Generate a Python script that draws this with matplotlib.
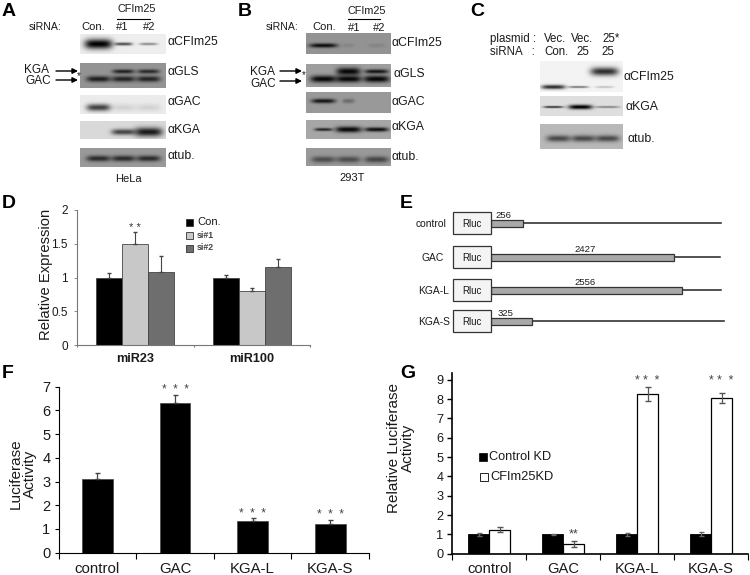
import numpy as np
import matplotlib
matplotlib.use('Agg')
import matplotlib.pyplot as plt
from matplotlib.patches import Rectangle

plt.rcParams['font.family'] = ['Liberation Sans', 'DejaVu Sans']

W, H = 750, 575

# panel D
mir_names = ['miR23', 'miR100']
mir_con = [1.0, 1.0]
mir_si1 = [1.5, 0.8]
mir_si2 = [1.08, 1.15]
mir_con_err = [0.07, 0.03]
mir_si1_err = [0.17, 0.04]
mir_si2_err = [0.24, 0.12]

# panel E
construct_names = ['control', 'GAC', 'KGA-L', 'KGA-S']
construct_len = [256, 2427, 2556, 325]

# panel F
luc_names = ['control', 'GAC', 'KGA-L', 'KGA-S']
luc_vals = [3.1, 6.33, 1.35, 1.22]
luc_err = [0.28, 0.33, 0.1, 0.15]

# panel G
rel_control = [1.0, 1.0, 1.0, 1.0]
rel_kd = [1.25, 0.5, 8.25, 8.05]
rel_control_err = [0.06, 0.03, 0.06, 0.1]
rel_kd_err = [0.13, 0.14, 0.37, 0.27]

# blot band strengths per lane
a_cfim = [1.0, 0.65, 0.4]
a_gls_up = [0.0, 0.75, 0.7]
a_gls_low = [0.8, 0.75, 0.75]
a_gac = [0.72, 0.1, 0.1]
a_kga = [0.0, 0.68, 0.88]
a_tub = [0.72, 0.72, 0.72]
b_cfim = [0.9, 0.1, 0.1]
b_gls_up = [0.0, 0.95, 0.85]
b_gls_low = [0.95, 0.95, 0.95]
b_gac = [0.85, 0.3, 0.0]
b_kga = [0.75, 0.95, 0.9]
b_tub = [0.5, 0.5, 0.55]
c_cfim_up = [0.0, 0.0, 0.8]
c_cfim_low = [0.8, 0.5, 0.2]
c_kga = [0.75, 1.0, 0.4]
c_tub = [0.6, 0.6, 0.6]

fig = plt.figure(figsize=(W / 100, H / 100), dpi=100)

# overlay in pixel coordinates, for the blots, the schematic and loose labels
ov = fig.add_axes([0, 0, 1, 1])
ov.set_xlim(0, W)
ov.set_ylim(H, 0)
ov.axis('off')

canvas = np.ones((H, W))
yy, xx = np.mgrid[0:H, 0:W]


def blot_bg(x0, y0, x1, y1, level):
    canvas[y0:y1, x0:x1] = level


def bands(box, lanes, y, strengths, w, h):
    # w and h can be one number or one per lane
    x0, y0, x1, y1 = box
    w = np.broadcast_to(w, len(lanes))
    h = np.broadcast_to(h, len(lanes))
    for cx, s, bw, bh in zip(lanes, strengths, w, h):
        shape = np.exp(-((xx - cx) / bw) ** 4 - ((yy - y) / bh) ** 2)
        part = 1 - s * shape
        canvas[y0:y1, x0:x1] *= part[y0:y1, x0:x1]


# panel A blots
lanes = [98, 123, 148]
box = (80, 34, 166, 54)
blot_bg(*box, 0.93)
bands(box, lanes, 43.5, a_cfim, [14, 9, 9], [5, 1.6, 1.3])
box = (80, 63, 166, 88)
blot_bg(*box, 0.58)
bands(box, lanes, 71, a_gls_up, 11, 2.2)
bands(box, lanes, 78.5, a_gls_low, 12, 3)
box = (80, 95, 166, 114)
blot_bg(*box, 0.92)
bands(box, lanes, 107, a_gac, 12, 3.6)
box = (80, 121, 166, 139)
blot_bg(*box, 0.85)
bands(box, lanes, 131.5, a_kga, [10, 12, 14], [2.5, 3, 4.5])
box = (80, 148, 166, 167)
blot_bg(*box, 0.6)
bands(box, lanes, 158, a_tub, 12, 3)

# panel B blots
lanes = [323, 348, 376]
box = (306, 33, 391, 54)
blot_bg(*box, 0.58)
bands(box, lanes, 45, b_cfim, [14, 6, 9], 2.2)
box = (306, 64, 391, 87)
blot_bg(*box, 0.62)
bands(box, lanes, 71, b_gls_up, 12, [2, 3.8, 2.2])
bands(box, lanes, 78.5, b_gls_low, 13, 3.5)
box = (306, 92, 391, 113)
blot_bg(*box, 0.6)
bands(box, lanes, 100.5, b_gac, [12, 6, 6], 2.3)
box = (306, 120, 391, 139)
blot_bg(*box, 0.65)
bands(box, lanes, 129, b_kga, [9, 13, 12], [1.6, 3, 2.2])
box = (306, 148, 391, 166)
blot_bg(*box, 0.6)
bands(box, lanes, 159, b_tub, 12, 3.2)

# panel C blots
lanes = [553, 578, 604]
box = (540, 61, 623, 92)
blot_bg(*box, 0.95)
bands(box, lanes, 71, c_cfim_up, 14, 4.2)
bands(box, lanes, 86.5, c_cfim_low, [12, 10, 9], [2.2, 1.1, 1.1])
box = (540, 96, 623, 116)
blot_bg(*box, 0.87)
bands(box, [553, 580, 607], 106.5, c_kga, [10, 12, 12], [1.1, 2.3, 1.1])
box = (540, 124, 623, 149)
blot_bg(*box, 0.72)
bands(box, [558, 583, 607], 138, c_tub, 12, 3.3)

ov.imshow(canvas, cmap='gray', vmin=0, vmax=1, extent=(0, W, H, 0),
          interpolation='bilinear', aspect='auto', zorder=0)


def label(x, y, s, size=8.5, ha='left', **kw):
    ov.text(x, y, s, fontsize=size, ha=ha, va='center', color=kw.pop('color', '#1a1a1a'), **kw)


def arrow(x0, x1, y):
    ov.annotate('', xy=(x1, y), xytext=(x0, y),
                arrowprops=dict(arrowstyle='-|>', color='black', lw=1, mutation_scale=8,
                                shrinkA=0, shrinkB=0))


# panel letters
for x, y, s in [(2, 11, 'A'), (238, 11, 'B'), (470, 11, 'C'), (2, 203, 'D'),
                (400, 203, 'E'), (2, 373, 'F'), (400, 373, 'G')]:
    ov.text(x, y, s, fontsize=14, fontweight='bold', ha='left', va='center', color='black')

# panel A text
label(29, 27, 'siRNA:', 7.6)
label(93.5, 27, 'Con.', 8, ha='center')
label(122, 27, '#1', 8, ha='center')
label(149, 27, '#2', 8, ha='center')
label(137, 9, 'CFIm25', 7.8, ha='center')
ov.plot([117, 150], [18.5, 18.5], color='black', lw=0.8)
for y, s in [(42, 'αCFIm25'), (72, 'αGLS'), (102, 'αGAC'), (130, 'αKGA'), (156, 'αtub.')]:
    label(168, y, s, 8.8)
label(24, 70, 'KGA', 8.5)
label(25, 81, 'GAC', 8.5)
arrow(56, 78, 71)
arrow(56, 78, 80)
label(77, 76, '*', 7)
label(128.5, 179, 'HeLa', 8, ha='center')

# panel B text
label(266, 27, 'siRNA:', 7.6)
label(324, 27, 'Con.', 8, ha='center')
label(354, 28, '#1', 8, ha='center')
label(379, 28, '#2', 8, ha='center')
label(367, 11, 'CFIm25', 7.8, ha='center')
ov.plot([348, 380], [18.5, 18.5], color='black', lw=0.8)
for x, y, s in [(392, 43, 'αCFIm25'), (394, 74, 'αGLS'), (391, 102, 'αGAC'),
                (391, 127, 'αKGA'), (392, 157, 'αtub.')]:
    label(x, y, s, 8.8)
label(250, 72, 'KGA', 8.5)
label(250, 84, 'GAC', 8.5)
arrow(280, 302, 71)
arrow(280, 302, 81)
label(302, 75, '*', 7)
label(352, 178, '293T', 8, ha='center')

# panel C text
label(490, 39, 'plasmid :', 8.3)
label(490, 52, 'siRNA   :', 8.3)
label(544, 39, 'Vec.', 8.3)
label(571, 39, 'Vec.', 8.3)
label(602, 39, '25*', 8.3)
label(544, 52, 'Con.', 8.3)
label(576, 52, '25', 8.3)
label(601, 52, '25', 8.3)
label(624, 77, 'αCFIm25', 8.8)
label(626, 107, 'αKGA', 8.8)
label(628, 139, 'αtub.', 8.8)

# panel D legend
d_colors = ['black', '#c8c8c8', '#6e6e6e']
for y, c in zip([222, 235, 248], d_colors):
    ov.add_patch(Rectangle((186, y - 3), 6.5, 6.5, fc=c, ec='#333333', lw=0.6))
label(197, 222, 'Con.', 8)
label(197, 235.5, 'si#1', 6.3, fontweight='bold', color='#444444')
label(197, 248, 'si#2', 6.3, fontweight='bold', color='#444444')

# panel E schematic, the drawn bars are not quite to scale with the lengths
row_y = [223, 257, 290, 321]
row_end = [721, 720, 721, 724]
name_x = [431.5, 433, 434, 434]
num_x = [503, 585, 585, 506]
for i in range(4):
    y = row_y[i]
    bar_w = np.interp(construct_len[i], [256, 325, 2427, 2556], [32, 41, 183, 191])
    ov.plot([490, row_end[i]], [y, y], color='#222222', lw=1.1, zorder=2)
    ov.add_patch(Rectangle((490.5, y - 3.5), bar_w, 7, fc='#a9a9a9', ec='#333333', lw=0.9, zorder=3))
    ov.add_patch(Rectangle((452.5, y - 11), 38, 22, fc='#f4f4f4', ec='#333333', lw=0.9, zorder=4))
    label(472, y + 1, 'Rluc', 7, ha='center', zorder=5)
    label(name_x[i], y + 1, construct_names[i], 7.4, ha='center')
    label(num_x[i], y - 7.5, str(construct_len[i]), 6.8, ha='center', zorder=5)


def chart_axes(x0, y0, x1, y1):
    ax = fig.add_axes([x0 / W, 1 - y1 / H, (x1 - x0) / W, (y1 - y0) / H])
    ax.patch.set_visible(False)
    ax.spines['top'].set_visible(False)
    ax.spines['right'].set_visible(False)
    return ax


def cat_ticks(ax, names, size, length=3.5, pad=2, **kw):
    n = len(names)
    ax.set_xlim(-0.5, n - 0.5)
    ax.set_xticks(np.arange(n))
    ax.set_xticklabels(names, fontsize=size, color='#1a1a1a', **kw)
    ax.tick_params(axis='x', which='major', length=0, pad=length + pad)
    ax.set_xticks(np.arange(n + 1) - 0.5, minor=True)
    ax.tick_params(axis='x', which='minor', length=length, width=0.8)


# panel D
ax = chart_axes(77, 210, 310, 345)
w = 0.223
pos = np.arange(len(mir_names))
for off, vals, errs, c in zip([-w, 0, w], [mir_con, mir_si1, mir_si2],
                              [mir_con_err, mir_si1_err, mir_si2_err], d_colors):
    ax.bar(pos + off, vals, w, color=c, edgecolor='#444444', linewidth=0.6)
    ax.errorbar(pos + off, vals, yerr=[np.zeros(2), errs], fmt='none', ecolor='#444444',
                elinewidth=0.8, capsize=1.5)
ax.set_ylim(0, 2)
ax.set_yticks([0, 0.5, 1, 1.5, 2])
ax.set_yticklabels(['0', '0.5', '1', '1.5', '2'], fontsize=8.5, color='#1a1a1a')
ax.tick_params(axis='y', length=2.5, width=0.6, color='#777777', pad=4)
ax.tick_params(axis='x', which='minor', color='#777777')
cat_ticks(ax, mir_names, 9.1, length=1.5, pad=4, fontweight='bold')
ax.spines['left'].set_color('#777777')
ax.spines['bottom'].set_color('#777777')
ax.text(0, 1.74, '* *', fontsize=8, ha='center', va='center', color='#333333')
ax.set_ylabel('Relative Expression', fontsize=10.6, color='#1a1a1a')
ax.yaxis.set_label_coords((53 - 77) / 233, 0.526)

# panel F
ax = chart_axes(58.7, 386.7, 369, 552.7)
pos = np.arange(len(luc_names))
ax.bar(pos, luc_vals, 0.395, color='black', edgecolor='#444444', linewidth=0.5)
ax.errorbar(pos, luc_vals, yerr=[np.zeros(4), luc_err], fmt='none', ecolor='#444444',
            elinewidth=0.9, capsize=1.8)
ax.set_ylim(0, 7)
ax.set_yticks(range(8))
ax.tick_params(axis='y', labelsize=10.5, labelcolor='#1a1a1a', length=3, width=0.8, pad=3)
cat_ticks(ax, luc_names, 10.8, length=4, pad=3)
for i, v, e in zip([1, 2, 3], luc_vals[1:], luc_err[1:]):
    ax.text(i, v + e + 0.2, '*  *  *', fontsize=8.5, ha='center', va='center', color='#444444')
ax.set_ylabel('Luciferase\nActivity', fontsize=11, color='#1a1a1a', linespacing=1.0)
ax.yaxis.set_label_coords((37 - 58.7) / 310.3, 0.474)

# panel G
ax = chart_axes(452.3, 373, 748, 553.7)
w = 0.284
pos = np.arange(len(luc_names))
ax.bar(pos - w / 2, rel_control, w, color='black', edgecolor='black', linewidth=0.6)
ax.bar(pos + w / 2, rel_kd, w, color='white', edgecolor='black', linewidth=0.9)
ax.errorbar(pos - w / 2, rel_control, yerr=rel_control_err, fmt='none', ecolor='#666666',
            elinewidth=0.9, capsize=1.8)
ax.errorbar(pos + w / 2, rel_kd, yerr=rel_kd_err, fmt='none', ecolor='#555555',
            elinewidth=0.9, capsize=2)
ax.set_ylim(0, 9.35)
ax.set_yticks(range(10))
ax.tick_params(axis='y', labelsize=9.2, labelcolor='#1a1a1a', length=3.5, width=1, pad=3)
cat_ticks(ax, luc_names, 10.6, length=4)
ax.spines['left'].set_linewidth(1.2)
ax.spines['bottom'].set_linewidth(1.2)
ax.text(1 + w / 2, rel_kd[1] + rel_kd_err[1] + 0.35, '**', fontsize=9, ha='center', va='center', color='#444444')
for i in [2, 3]:
    ax.text(i + w / 2, 8.92, '* *  *', fontsize=8.8, ha='center', va='center', color='#444444')
ax.set_ylabel('Relative Luciferase\nActivity', fontsize=11, color='#1a1a1a', linespacing=1.0)
ax.yaxis.set_label_coords((415 - 452.3) / 295.7, 0.585)

ov.add_patch(Rectangle((479, 453), 7.5, 7.5, fc='black', ec='black', lw=0.5))
ov.add_patch(Rectangle((480, 473), 7.5, 7.5, fc='white', ec='#222222', lw=0.7))
label(489, 456.7, 'Control KD', 9.2)
label(490.5, 476.7, 'CFIm25KD', 9.3)

fig.savefig('out.png', dpi=100)
